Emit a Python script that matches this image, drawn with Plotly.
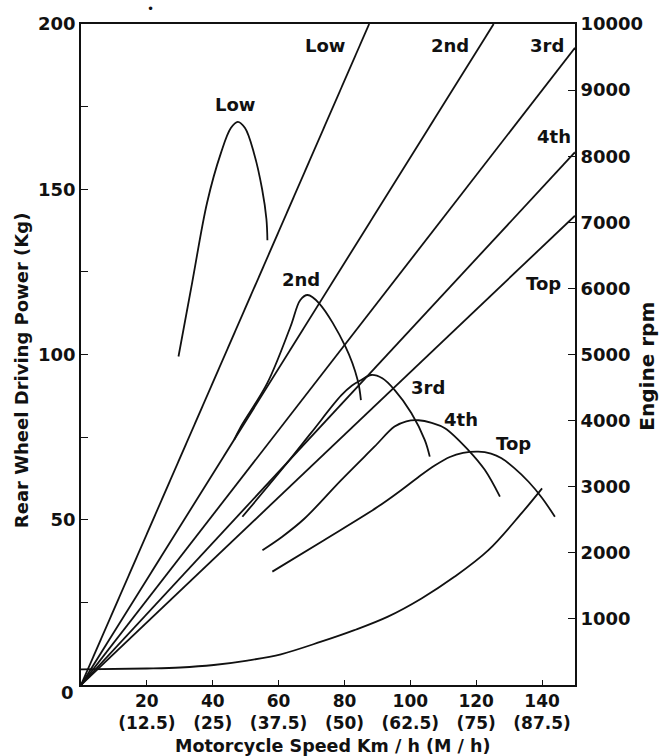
import plotly.graph_objects as go

# ---- data ----
speed_ticks = [20, 40, 60, 80, 100, 120, 140]
speed_tick_text = ["20<br>(12.5)", "40<br>(25)", "60<br>(37.5)", "80<br>(50)",
                   "100<br>(62.5)", "120<br>(75)", "140<br>(87.5)"]
power_ticks = [25, 50, 75, 100, 125, 150, 175, 200]
power_tick_text = ["", "50", "", "100", "", "150", "", "200"]
rpm_ticks = [1000, 2000, 3000, 4000, 5000, 6000, 7000, 8000, 9000, 10000]
rpm_tick_text = ["1000", "2000", "3000", "4000", "5000", "6000", "7000", "8000", "9000", "10000"]

# engine rpm lines per gear (speed km/h, rpm)
rpm_low_speed = [0, 87.5];   rpm_low = [0, 10000]
rpm_2nd_speed = [0, 125.3];  rpm_2nd = [0, 10000]
rpm_3rd_speed = [0, 150];    rpm_3rd = [0, 9640]
rpm_4th_speed = [0, 150];    rpm_4th = [0, 8060]
rpm_top_speed = [0, 150];    rpm_top = [0, 7100]

# rear wheel driving power curves (speed km/h, kg)
low_speed = [29.6, 33.8, 38.3, 42.5, 45.5, 47.6, 49.8, 52.5, 55.0, 56.3, 56.6]
low_power = [99.4, 122.0, 146.0, 161.0, 168.5, 170.4, 168.5, 161.0, 150.0, 141.0, 134.6]

second_speed = [46.5, 48.5, 56.6, 63.6, 66.6, 68.8, 72.3, 80.3, 84.0, 85.0]
second_power = [74.2, 78.1, 91.4, 108.4, 116.5, 118.0, 115.5, 102.4, 92.3, 86.2]

third_speed = [49.0, 61.7, 69.8, 79.0, 82.3, 85.1, 88.1, 91.5, 95.2, 100.3, 104.4, 105.9]
third_power = [50.9, 66.1, 76.2, 87.6, 90.6, 92.3, 93.8, 92.8, 89.3, 82.3, 74.1, 69.1]

fourth_speed = [55.1, 61.0, 67.8, 79.0, 89.1, 95.2, 98.8, 102.5, 106.5, 110.5, 117.6, 122.6, 127.2]
fourth_power = [40.8, 44.8, 50.3, 62.0, 72.1, 78.2, 79.8, 80.1, 79.3, 77.7, 71.1, 65.1, 57.0]

top_speed = [58.1, 73.9, 90.1, 97.3, 102.3, 107.4, 112.0, 116.0, 120.6, 124.5, 127.7, 131.5, 135.9, 140.0, 143.9]
top_power = [34.3, 43.9, 53.9, 59.0, 62.8, 66.4, 69.0, 70.2, 70.6, 70.0, 68.6, 65.7, 61.5, 56.6, 50.9]

# running resistance curve
resist_speed = [0, 20, 30.2, 40.3, 50.5, 60.7, 72.9, 83.0, 93.2, 103.4, 113.5, 123.7, 133.8, 140.0]
resist_power = [4.7, 5.0, 5.3, 6.05, 7.4, 9.3, 13.1, 16.6, 20.7, 26.2, 32.8, 40.8, 52.0, 59.5]

# curve labels (text, speed, kg)
curve_labels = [("Low", 46.9, 175.6), ("2nd", 66.9, 122.8), ("3rd", 105.5, 89.9),
                ("4th", 115.5, 80.2), ("Top", 131.4, 73.2)]
line_labels = [("Low", 74.1, 193.6), ("2nd", 111.9, 193.6), ("3rd", 141.5, 193.6),
               ("4th", 143.6, 166.1), ("Top", 140.4, 121.6)]

FONT = "DejaVu Sans"
BLACK = "#111111"

fig = go.Figure()
lw = 1.8
for sx, sy in [(rpm_low_speed, rpm_low), (rpm_2nd_speed, rpm_2nd), (rpm_3rd_speed, rpm_3rd),
               (rpm_4th_speed, rpm_4th), (rpm_top_speed, rpm_top)]:
    fig.add_trace(go.Scatter(x=sx, y=sy, yaxis="y2", mode="lines",
                             line=dict(color=BLACK, width=lw), showlegend=False, hoverinfo="skip"))

for sx, sy in [(low_speed, low_power), (second_speed, second_power), (third_speed, third_power),
               (fourth_speed, fourth_power), (top_speed, top_power), (resist_speed, resist_power)]:
    fig.add_trace(go.Scatter(x=sx, y=sy, mode="lines",
                             line=dict(color=BLACK, width=lw, shape="spline", smoothing=1.0),
                             showlegend=False, hoverinfo="skip"))

bold = dict(family=FONT, size=18, color=BLACK, weight="bold")

annotations = []
for txt, sx, sy in curve_labels + line_labels:
    annotations.append(dict(x=sx, y=sy, xref="x", yref="y", text=txt,
                            xanchor="center", yanchor="middle",
                            showarrow=False, font=bold))

annotations += [
    dict(x=-0.0283, y=-0.0106, xref="paper", yref="paper", text="0", showarrow=False,
         xanchor="center", yanchor="middle", font=bold),
    dict(x=0.509, y=-0.0923, xref="paper", yref="paper",
         xanchor="center", yanchor="middle", borderpad=0,
         text="Motorcycle Speed Km / h (M / h)", showarrow=False,
         font=dict(family=FONT, size=17.5, color=BLACK, weight="bold")),
    dict(x=-0.119, y=0.4766, xref="paper", yref="paper", textangle=-90,
         xanchor="center", yanchor="middle",
         text="Rear Wheel Driving Power (Kg)", showarrow=False, font=bold),
    dict(x=1.145, y=0.4826, xref="paper", yref="paper", textangle=-90,
         xanchor="center", yanchor="middle", borderpad=0,
         text="Engine rpm", showarrow=False,
         font=dict(family=FONT, size=20, color=BLACK, weight="bold")),
    dict(x=0.14, y=1.022, xref="paper", yref="paper", text="•", showarrow=False,
         xanchor="center", yanchor="middle",
         font=dict(family=FONT, size=12, color=BLACK)),
]

fig.update_layout(
    width=660, height=756,
    margin=dict(l=81, r=85, t=24, b=71),
    paper_bgcolor="white", plot_bgcolor="white",
    font=dict(family=FONT, size=18, color=BLACK),
    xaxis=dict(range=[0, 150], tickvals=speed_ticks, ticktext=speed_tick_text,
               ticks="inside", ticklen=5, tickwidth=1.3, tickcolor=BLACK,
               showline=True, linecolor=BLACK, linewidth=1.8, mirror=True,
               showgrid=False, zeroline=False,
               tickfont=dict(family=FONT, size=17, color=BLACK, weight="bold")),
    yaxis=dict(range=[0, 200], tickvals=power_ticks, ticktext=power_tick_text,
               ticks="inside", ticklen=7, tickwidth=1.3, tickcolor=BLACK,
               showline=True, linecolor=BLACK, linewidth=1.8,
               showgrid=False, zeroline=False,
               tickfont=dict(family=FONT, size=18, color=BLACK, weight="bold")),
    yaxis2=dict(range=[0, 10000], tickvals=rpm_ticks, ticktext=rpm_tick_text,
                overlaying="y", side="right",
                ticks="inside", ticklen=7, tickwidth=1.3, tickcolor=BLACK,
                showline=True, linecolor=BLACK, linewidth=1.8,
                showgrid=False, zeroline=False,
                tickfont=dict(family=FONT, size=18, color=BLACK, weight="bold")),
    annotations=annotations,
)

# remove the browser's default 8px page margin so the 660x756 figure fills the window
fig.write_html("out.html", config={"displayModeBar": False},
               post_script="document.body.style.margin='0';")
